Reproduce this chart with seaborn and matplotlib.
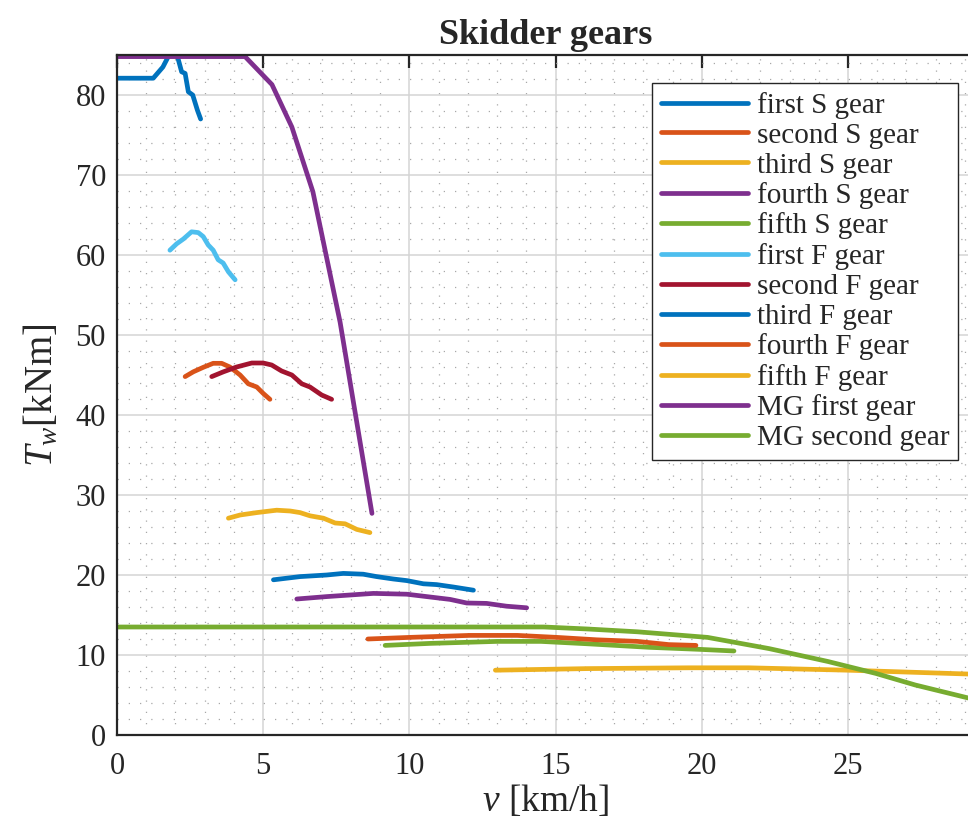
import numpy as np
import pandas as pd
import matplotlib
matplotlib.use("Agg")
import matplotlib.pyplot as plt
import seaborn as sns
from matplotlib.ticker import MultipleLocator

# ---------------- data ----------------
labels = ["first S gear", "second S gear", "third S gear", "fourth S gear", "fifth S gear",
          "first F gear", "second F gear", "third F gear", "fourth F gear", "fifth F gear",
          "MG first gear", "MG second gear"]

s1_v = [0.0, 1.24, 1.57, 1.81, 2.04, 2.21, 2.33, 2.44, 2.59, 2.75, 2.86]
s1_t = [82.1, 82.1, 83.5, 85.2, 85.2, 82.9, 82.7, 80.4, 80.0, 78.1, 77.0]

s2_v = [2.33, 2.61, 2.95, 3.29, 3.58, 3.86, 4.21, 4.49, 4.78, 5.0, 5.23]
s2_t = [44.8, 45.4, 45.96, 46.46, 46.46, 46.0, 45.0, 43.9, 43.5, 42.7, 41.96]

s3_v = [3.81, 4.21, 4.78, 5.46, 5.92, 6.26, 6.6, 7.06, 7.46, 7.8, 8.2, 8.65]
s3_t = [27.1, 27.5, 27.8, 28.1, 28.0, 27.8, 27.4, 27.1, 26.5, 26.4, 25.7, 25.3]

s4_v = [6.15, 7.17, 7.97, 8.77, 9.91, 10.82, 11.39, 11.96, 12.64, 13.32, 14.01]
s4_t = [17.0, 17.3, 17.5, 17.7, 17.6, 17.2, 16.95, 16.5, 16.45, 16.1, 15.9]

s5_v = [9.17, 10.7, 13.0, 14.5, 16.1, 18.2, 19.96, 21.1]
s5_t = [11.2, 11.45, 11.7, 11.7, 11.4, 10.96, 10.7, 10.5]

f1_v = [1.81, 2.04, 2.27, 2.55, 2.78, 2.95, 3.12, 3.29, 3.46, 3.63, 3.81, 4.04]
f1_t = [60.6, 61.4, 62.0, 62.9, 62.8, 62.3, 61.25, 60.6, 59.4, 59.0, 57.9, 56.9]

f2_v = [3.24, 3.64, 4.09, 4.61, 5.0, 5.29, 5.63, 5.98, 6.32, 6.6, 7.0, 7.34]
f2_t = [44.8, 45.4, 46.0, 46.5, 46.5, 46.25, 45.5, 45.0, 43.9, 43.5, 42.5, 41.96]

f3_v = [5.35, 6.26, 7.17, 7.74, 8.42, 8.88, 9.45, 9.91, 10.48, 10.93, 11.5, 12.19]
f3_t = [19.4, 19.8, 20.0, 20.2, 20.1, 19.8, 19.5, 19.3, 18.9, 18.8, 18.5, 18.1]

f4_v = [8.58, 10.0, 12.06, 13.69, 15.05, 16.4, 17.8, 18.87, 19.8]
f4_t = [12.0, 12.2, 12.45, 12.45, 12.2, 11.9, 11.7, 11.3, 11.2]

f5_v = [12.94, 16.1, 19.55, 21.6, 25.0, 29.3]
f5_t = [8.1, 8.3, 8.4, 8.4, 8.1, 7.6]

mg1_v = [0.0, 4.38, 5.3, 5.98, 6.7, 7.63, 8.72]
mg1_t = [84.8, 84.8, 81.3, 76.0, 67.9, 51.6, 27.7]

mg2_v = [0.0, 14.6, 16.1, 17.8, 20.2, 22.3, 24.3, 25.95, 27.3, 29.3]
mg2_t = [13.5, 13.5, 13.25, 12.9, 12.2, 10.8, 9.2, 7.7, 6.25, 4.46]

series_v = [s1_v, s2_v, s3_v, s4_v, s5_v, f1_v, f2_v, f3_v, f4_v, f5_v, mg1_v, mg2_v]
series_t = [s1_t, s2_t, s3_t, s4_t, s5_t, f1_t, f2_t, f3_t, f4_t, f5_t, mg1_t, mg2_t]

colors = ["#0072BD", "#D95319", "#EDB120", "#7E2F8E", "#77AC30", "#4DBEEE", "#A2142F",
          "#0072BD", "#D95319", "#EDB120", "#7E2F8E", "#77AC30"]

# ---------------- style ----------------
sns.set_theme(style="white")
plt.rcParams["font.family"] = ["Liberation Serif", "DejaVu Serif"]
plt.rcParams["mathtext.fontset"] = "custom"
plt.rcParams["mathtext.rm"] = "Liberation Serif"
plt.rcParams["mathtext.it"] = "Liberation Serif:italic"

W, H = 968, 821
x_max = 29.3
px_per_unit = 29.24
fig = plt.figure(figsize=(W / 100, H / 100), dpi=100)
ax = fig.add_axes([117 / W, 86 / H, x_max * px_per_unit / W, 680 / H])

for v, t, c, lab in zip(series_v, series_t, colors, labels):
    df = pd.DataFrame({"v": v, "T": t})
    sns.lineplot(data=df, x="v", y="T", color=c, linewidth=3.4, label=lab,
                 sort=False, estimator=None, ax=ax)

ax.set_xlim(0, x_max)
ax.set_ylim(0, 85)
ax.xaxis.set_major_locator(MultipleLocator(5))
ax.xaxis.set_minor_locator(MultipleLocator(1))
ax.yaxis.set_major_locator(MultipleLocator(10))
ax.yaxis.set_minor_locator(MultipleLocator(2))

ax.grid(which="major", color="#d4d4d4", linewidth=1.1, linestyle="-")
ax.grid(which="minor", color="#a8a8a8", linewidth=0.9, linestyle=(0, (1, 8)))
ax.set_axisbelow(True)

for sp in ax.spines.values():
    sp.set_visible(True)
    sp.set_color("#262626")
    sp.set_linewidth(1.6)

ax.tick_params(which="major", direction="in", length=9, width=1.6, top=True, right=False,
               labelsize=22, colors="#262626")
ax.tick_params(axis="x", pad=12)
ax.tick_params(axis="y", pad=8)
ax.tick_params(which="minor", length=0)

ax.set_xlabel(r"$v$ [km/h]", fontsize=27, labelpad=2)
ax.set_ylabel(r"$T_w$[kNm]", fontsize=28, labelpad=10)
ax.set_title("Skidder gears", fontsize=26, fontweight="bold", pad=8)

leg = ax.legend(loc="upper right", borderaxespad=0, fontsize=21, frameon=True,
                fancybox=False, edgecolor="#262626", framealpha=1, handlelength=3.0,
                handletextpad=0.3, labelspacing=0.12, borderpad=0.3)
leg.set_bbox_to_anchor((958 / W, (H - 83) / H), transform=fig.transFigure)
leg.get_frame().set_linewidth(1.0)

fig.savefig("out.png", dpi=100)
